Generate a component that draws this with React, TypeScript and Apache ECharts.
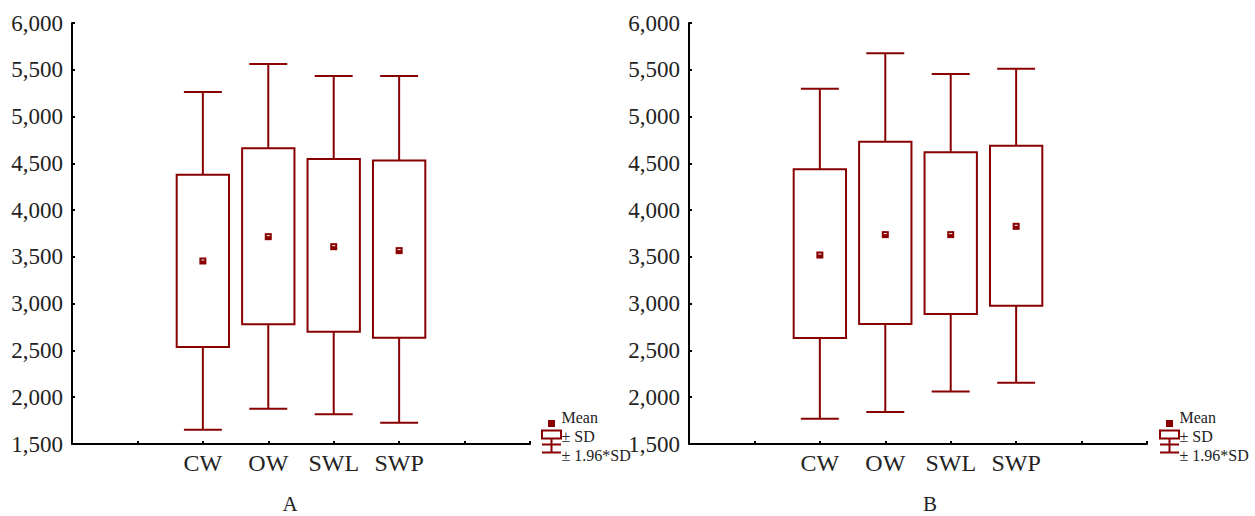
import React, { useEffect, useRef } from 'react';
import * as echarts from 'echarts';

const categories = ['CW', 'OW', 'SWL', 'SWP'];
const panelLabels = ['A', 'B'];
const legendLabels = ['Mean', '± SD', '± 1.96*SD'];

// Panel A
const meanA = [3456, 3716, 3609, 3567];
const sdLowA = [2537, 2780, 2701, 2637];
const sdHighA = [4379, 4661, 4546, 4529];
const ciLowA = [1653, 1878, 1817, 1728];
const ciHighA = [5263, 5562, 5434, 5434];

// Panel B
const meanB = [3520, 3738, 3738, 3827];
const sdLowB = [2633, 2783, 2890, 2979];
const sdHighB = [4436, 4732, 4618, 4689];
const ciLowB = [1771, 1842, 2060, 2156];
const ciHighB = [5298, 5676, 5455, 5512];

const RED = '#880000';
const TEXT = '#222';
const FONT = 'Liberation Serif, serif';
const SLOT_OFFSET = 2; // categories sit at slots 2..5 of a 0..7 axis

const buildData = (ciLow: number[], sdLow: number[], mean: number[], sdHigh: number[], ciHigh: number[]) =>
  categories.map((_, i) => [i + SLOT_OFFSET, ciLow[i], sdLow[i], mean[i], sdHigh[i], ciHigh[i]]);

const renderBox = (params: any, api: any) => {
  const x = api.value(0);
  const [cx, yCiHigh] = api.coord([x, api.value(5)]);
  const yCiLow = api.coord([x, api.value(1)])[1];
  const ySdLow = api.coord([x, api.value(2)])[1];
  const yMean = api.coord([x, api.value(3)])[1];
  const ySdHigh = api.coord([x, api.value(4)])[1];
  const slot = api.size([1, 0])[0];
  const bw = slot * 0.8;
  const cw = slot * 0.58;
  const ls = { stroke: RED, lineWidth: 2, fill: null };
  return {
    type: 'group',
    children: [
      { type: 'line', shape: { x1: cx, y1: yCiHigh, x2: cx, y2: ySdHigh }, style: ls },
      { type: 'line', shape: { x1: cx, y1: ySdLow, x2: cx, y2: yCiLow }, style: ls },
      { type: 'line', shape: { x1: cx - cw / 2, y1: yCiHigh, x2: cx + cw / 2, y2: yCiHigh }, style: ls },
      { type: 'line', shape: { x1: cx - cw / 2, y1: yCiLow, x2: cx + cw / 2, y2: yCiLow }, style: ls },
      {
        type: 'rect',
        shape: { x: cx - bw / 2, y: ySdHigh, width: bw, height: ySdLow - ySdHigh },
        style: { stroke: RED, lineWidth: 2, fill: '#fff' },
      },
      { type: 'rect', shape: { x: cx - 3.5, y: yMean - 3.5, width: 7, height: 7 }, style: { fill: RED } },
      { type: 'rect', shape: { x: cx - 1.5, y: yMean - 1.5, width: 3, height: 1 }, style: { fill: '#fff' } },
    ],
  };
};

const legendGraphic = (ox: number) => {
  const ls = { stroke: RED, lineWidth: 2, fill: null };
  const cx = ox + 9.5;
  return [
    { type: 'rect', shape: { x: cx - 3.5, y: 420, width: 7, height: 7 }, style: { fill: RED } },
    { type: 'rect', shape: { x: ox, y: 430.5, width: 19, height: 8 }, style: { stroke: RED, lineWidth: 2, fill: '#fff' } },
    { type: 'line', shape: { x1: ox, y1: 444.5, x2: ox + 19, y2: 444.5 }, style: ls },
    { type: 'line', shape: { x1: cx, y1: 438.5, x2: cx, y2: 452.5 }, style: ls },
    { type: 'line', shape: { x1: ox, y1: 452.5, x2: ox + 19, y2: 452.5 }, style: ls },
    ...legendLabels.map((t, i) => ({
      type: 'text',
      x: ox + 19.5,
      y: [417, 436.5, 455][i],
      style: { text: t, font: `16px ${FONT}`, fill: TEXT, textVerticalAlign: 'middle', textAlign: 'left' },
    })),
  ];
};

const fmt = (v: number) => v.toLocaleString('en-US');

export default function App() {
  const ref = useRef<HTMLDivElement>(null);
  useEffect(() => {
    const chart = echarts.init(ref.current!, null, { renderer: 'svg' });
    const grids = [
      { left: 72, top: 23, width: 458, height: 421 },
      { left: 689, top: 23, width: 458, height: 421 },
    ];
    const xAxis = grids.map((_, gi) => ({
      type: 'value',
      gridIndex: gi,
      min: 0,
      max: 7,
      interval: 1,
      axisLine: { show: true, lineStyle: { color: '#000', width: 2 } },
      axisTick: { show: true, inside: true, length: 3, lineStyle: { color: '#000', width: 2 } },
      axisLabel: {
        show: true,
        margin: 7,
        color: TEXT,
        fontFamily: FONT,
        fontSize: 24,
        formatter: (v: number) => categories[v - SLOT_OFFSET] ?? '',
      },
      splitLine: { show: false },
    }));
    const yAxis = grids.map((_, gi) => ({
      type: 'value',
      gridIndex: gi,
      min: 1500,
      max: 6000,
      interval: 500,
      axisLine: { show: true, lineStyle: { color: '#000', width: 2 } },
      axisTick: { show: true, inside: true, length: 3, lineStyle: { color: '#000', width: 2 } },
      axisLabel: { margin: 9, color: TEXT, fontFamily: FONT, fontSize: 23, formatter: fmt },
      splitLine: { show: false },
    }));
    const sets = [
      buildData(ciLowA, sdLowA, meanA, sdHighA, ciHighA),
      buildData(ciLowB, sdLowB, meanB, sdHighB, ciHighB),
    ];
    chart.setOption({
      animation: false,
      backgroundColor: '#fff',
      grid: grids,
      xAxis,
      yAxis,
      series: sets.map((d, gi) => ({
        type: 'custom',
        xAxisIndex: gi,
        yAxisIndex: gi,
        renderItem: renderBox,
        data: d,
        clip: false,
      })),
      graphic: [
        ...legendGraphic(542),
        ...legendGraphic(1160),
        ...panelLabels.map((t, i) => ({
          type: 'text',
          x: [290, 930][i],
          y: 504,
          style: { text: t, font: `21px ${FONT}`, fill: TEXT, textAlign: 'center', textVerticalAlign: 'middle' },
        })),
      ],
    });
    return () => chart.dispose();
  }, []);
  return <div ref={ref} style={{ position: 'absolute', left: 0, top: 0, width: 1255, height: 516 }} />;
}
